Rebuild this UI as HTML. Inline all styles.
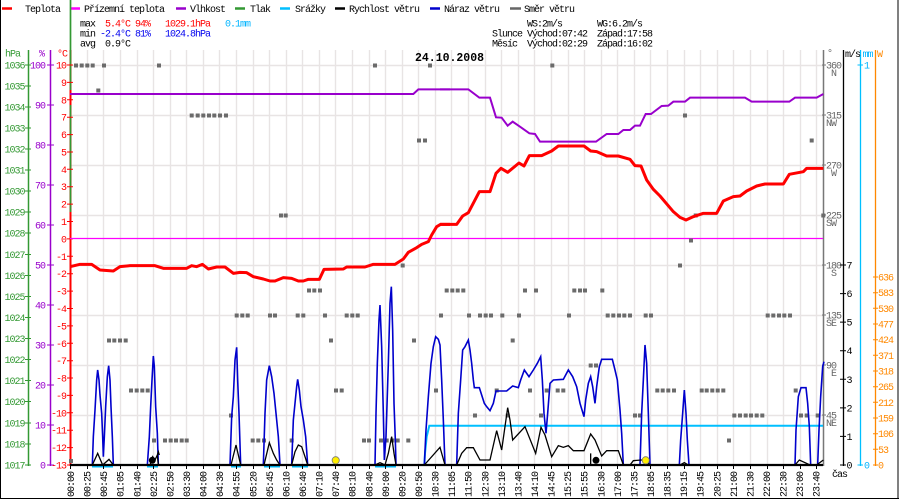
<!DOCTYPE html>
<html><head><meta charset="utf-8"><style>
html,body{margin:0;padding:0;background:#fff;}
svg{display:block;}
text{font-family:"Liberation Mono","DejaVu Sans Mono",monospace;font-size:10px;letter-spacing:-1px;fill:#000;}
.g{fill:#339933}.p{fill:#9900cc}.r{fill:#ff0000}.gr{fill:#666}.o{fill:#ff8800}.c{fill:#00b4ff}.b{fill:#0000ee}
</style></head><body>
<svg width="900" height="500" viewBox="0 0 900 500" xmlns="http://www.w3.org/2000/svg">
<rect width="900" height="500" fill="#fff"/>
<!-- frame -->
<path d="M0.5 0V499 M898 0V499 M0 498.5H899" stroke="#000" stroke-width="1" fill="none"/>

<!-- legend -->
<g stroke-width="2.5">
<line x1="2" x2="12" y1="8.5" y2="8.5" stroke="#ff0000"/>
<line x1="70" x2="80" y1="8.5" y2="8.5" stroke="#ff00ff"/>
<line x1="176" x2="186" y1="8.5" y2="8.5" stroke="#9900cc"/>
<line x1="235" x2="245" y1="8.5" y2="8.5" stroke="#339933"/>
<line x1="280" x2="290" y1="8.5" y2="8.5" stroke="#00bfff"/>
<line x1="335" x2="345" y1="8.5" y2="8.5" stroke="#000"/>
<line x1="430" x2="440" y1="8.5" y2="8.5" stroke="#0000cc"/>
<line x1="510" x2="521" y1="8.5" y2="8.5" stroke="#666"/>
</g>
<text x="25" y="12">Teplota</text>
<text x="84" y="12">Přízemní teplota</text>
<text x="190" y="12">Vlhkost</text>
<text x="250" y="12">Tlak</text>
<text x="295" y="12">Srážky</text>
<text x="349" y="12">Rychlost větru</text>
<text x="444" y="12">Náraz větru</text>
<text x="524" y="12">Směr větru</text>

<!-- stats -->
<text x="80" y="26.5">max</text>
<text x="105" y="26.5" class="r">5.4°C</text>
<text x="135" y="26.5" class="r">94%</text>
<text x="165" y="26.5" class="r">1029.1hPa</text>
<text x="225" y="26.5" class="c">0.1mm</text>
<text x="80" y="36.5">min</text>
<text x="100" y="36.5" class="b">-2.4°C</text>
<text x="135" y="36.5" class="b">81%</text>
<text x="165" y="36.5" class="b">1024.8hPa</text>
<text x="80" y="46.5">avg</text>
<text x="105" y="46.5">0.9°C</text>

<text x="527" y="26.5">WS:2m/s</text>
<text x="597" y="26.5">WG:6.2m/s</text>
<text x="492" y="36.5">Slunce</text>
<text x="527" y="36.5">Východ:07:42</text>
<text x="597" y="36.5">Západ:17:58</text>
<text x="492" y="46.5">Měsíc</text>
<text x="527" y="46.5">Východ:02:29</text>
<text x="597" y="46.5">Západ:16:02</text>

<!-- grid -->
<path stroke="#e8e4e4" stroke-width="1.4" fill="none" d="M70.5 50V465M87.5 50V465M103.5 50V465M120.5 50V465M137.5 50V465M153.5 50V465M170.5 50V465M186.5 50V465M203.5 50V465M219.5 50V465M236.5 50V465M253.5 50V465M269.5 50V465M286.5 50V465M302.5 50V465M319.5 50V465M335.5 50V465M352.5 50V465M369.5 50V465M385.5 50V465M402.5 50V465M418.5 50V465M435.5 50V465M451.5 50V465M468.5 50V465M485.5 50V465M501.5 50V465M518.5 50V465M534.5 50V465M551.5 50V465M568.5 50V465M584.5 50V465M601.5 50V465M617.5 50V465M634.5 50V465M650.5 50V465M667.5 50V465M684.5 50V465M700.5 50V465M717.5 50V465M733.5 50V465M750.5 50V465M767.5 50V465M783.5 50V465M800.5 50V465M816.5 50V465
M70 65.5H823M70 115.5H823M70 165.5H823M70 215.5H823M70 265.5H823M70 315.5H823M70 365.5H823M70 415.5H823"/>

<!-- title -->
<text x="415" y="61" style="font-size:11.5px;font-weight:bold;letter-spacing:0">24.10.2008</text>

<!-- left axes -->
<text x="5" y="56.5" class="g">hPa</text>
<text x="39" y="56.5" class="p">%</text>
<text x="57" y="56.5" class="r">°C</text>
<line x1="28.5" x2="28.5" y1="50" y2="466" stroke="#339933" stroke-width="1.5"/>
<line x1="50.5" x2="50.5" y1="50" y2="466" stroke="#9900cc" stroke-width="1.5"/>
<line x1="70.5" x2="70.5" y1="50" y2="466" stroke="#ff0000" stroke-width="2"/>
<path d="M70.5 0V90M70.5 105V212" stroke="#339933" stroke-width="1.7"/>

<path stroke="#339933" stroke-width="1" d="M25 65H31M25 86H31M25 107H31M25 128H31M25 149H31M25 170H31M25 191H31M25 212H31M25 233H31M25 254.5H31M25 275.5H31M25 296.5H31M25 317.5H31M25 338.5H31M25 359.5H31M25 380.5H31M25 401.5H31M25 423H31M25 444H31M25 465H31"/>
<g class="g" text-anchor="end">
<text x="24.5" y="68.5" class="g">1036</text><text x="24.5" y="89.5" class="g">1035</text><text x="24.5" y="110.5" class="g">1034</text><text x="24.5" y="131.5" class="g">1033</text><text x="24.5" y="152.5" class="g">1032</text><text x="24.5" y="173.5" class="g">1031</text><text x="24.5" y="194.5" class="g">1030</text><text x="24.5" y="215.5" class="g">1029</text><text x="24.5" y="236.5" class="g">1028</text><text x="24.5" y="258" class="g">1027</text><text x="24.5" y="279" class="g">1026</text><text x="24.5" y="300" class="g">1025</text><text x="24.5" y="321" class="g">1024</text><text x="24.5" y="342" class="g">1023</text><text x="24.5" y="363" class="g">1022</text><text x="24.5" y="384" class="g">1021</text><text x="24.5" y="405" class="g">1020</text><text x="24.5" y="426.5" class="g">1019</text><text x="24.5" y="447.5" class="g">1018</text><text x="24.5" y="468.5" class="g">1017</text>
</g>
<path stroke="#9900cc" stroke-width="1" d="M47 65H54M47 105H54M47 145H54M47 185H54M47 225H54M47 265H54M47 305H54M47 345H54M47 385H54M47 425H54M47 465H54"/>
<g text-anchor="end">
<text x="45" y="68.5" class="p">100</text><text x="45" y="108.5" class="p">90</text><text x="45" y="148.5" class="p">80</text><text x="45" y="188.5" class="p">70</text><text x="45" y="228.5" class="p">60</text><text x="45" y="268.5" class="p">50</text><text x="45" y="308.5" class="p">40</text><text x="45" y="348.5" class="p">30</text><text x="45" y="388.5" class="p">20</text><text x="45" y="428.5" class="p">10</text><text x="45" y="468.5" class="p">0</text>
</g>
<path stroke="#ff0000" stroke-width="1" d="M67 65H73M67 82.4H73M67 99.8H73M67 117.2H73M67 134.6H73M67 152H73M67 169.3H73M67 186.7H73M67 204.1H73M67 221.5H73M67 238.9H73M67 256.3H73M67 273.7H73M67 291.1H73M67 308.5H73M67 325.9H73M67 343.3H73M67 360.7H73M67 378H73M67 395.4H73M67 412.8H73M67 430.2H73M67 447.6H73M67 465H73"/>
<g text-anchor="end">
<text x="66" y="68.5" class="r">10</text><text x="66" y="86" class="r">9</text><text x="66" y="103.3" class="r">8</text><text x="66" y="120.7" class="r">7</text><text x="66" y="138.1" class="r">6</text><text x="66" y="155.5" class="r">5</text><text x="66" y="172.8" class="r">4</text><text x="66" y="190.2" class="r">3</text><text x="66" y="207.6" class="r">2</text><text x="66" y="225" class="r">1</text><text x="66" y="242.4" class="r">0</text><text x="66" y="259.8" class="r">-1</text><text x="66" y="277.2" class="r">-2</text><text x="66" y="294.6" class="r">-3</text><text x="66" y="312" class="r">-4</text><text x="66" y="329.4" class="r">-5</text><text x="66" y="346.8" class="r">-6</text><text x="66" y="364.2" class="r">-7</text><text x="66" y="381.5" class="r">-8</text><text x="66" y="398.9" class="r">-9</text><text x="66" y="416.3" class="r">-10</text><text x="66" y="433.7" class="r">-11</text><text x="66" y="451.1" class="r">-12</text><text x="66" y="468.5" class="r">-13</text>
</g>

<!-- right axes -->
<line x1="823.5" x2="823.5" y1="50" y2="466" stroke="#777" stroke-width="1.5"/>
<line x1="843.5" x2="843.5" y1="50" y2="466" stroke="#000" stroke-width="1.3"/>
<line x1="860.5" x2="860.5" y1="50" y2="466" stroke="#00bfff" stroke-width="1.3"/>
<line x1="875.5" x2="875.5" y1="50" y2="466" stroke="#ff8800" stroke-width="1.3"/>
<text x="827" y="56" class="gr">°</text>
<text x="845" y="57">m/s</text>
<text x="862.5" y="57" class="c">mm</text>
<text x="877" y="57" class="o">W</text>

<path stroke="#777" stroke-width="1" d="M822 65H826M822 115H826M822 165H826M822 215H826M822 265H826M822 315H826M822 365H826M822 415H826"/>
<text x="826" y="68.5" class="gr">360</text><text x="831" y="76" class="gr">N</text>
<text x="826" y="118.5" class="gr">315</text><text x="826" y="126" class="gr">NW</text>
<text x="826" y="168.5" class="gr">270</text><text x="831" y="176" class="gr">W</text>
<text x="826" y="218.5" class="gr">225</text><text x="826" y="226" class="gr">SW</text>
<text x="826" y="268.5" class="gr">180</text><text x="831" y="276" class="gr">S</text>
<text x="826" y="318.5" class="gr">135</text><text x="826" y="326" class="gr">SE</text>
<text x="826" y="368.5" class="gr">90</text><text x="831" y="376" class="gr">E</text>
<text x="826" y="418.5" class="gr">45</text><text x="826" y="426" class="gr">NE</text>

<path stroke="#000" stroke-width="1" d="M840 265H846M840 293.6H846M840 322.1H846M840 350.7H846M840 379.3H846M840 407.9H846M840 436.4H846M840 465H846"/>
<text x="846.5" y="268.5">7</text><text x="846.5" y="297">6</text><text x="846.5" y="325.6">5</text><text x="846.5" y="354.2">4</text><text x="846.5" y="382.8">3</text><text x="846.5" y="411.4">2</text><text x="846.5" y="439.9">1</text><text x="846.5" y="468.5">0</text>

<path stroke="#00bfff" stroke-width="1" d="M857.5 65H863M857.5 465H863"/>
<text x="864" y="68.5" class="c">1</text><text x="864" y="468.5" class="c">0</text>

<path stroke="#ff8800" stroke-width="1" d="M873 277H878M873 292.7H878M873 308.3H878M873 324H878M873 339.7H878M873 355.3H878M873 371H878M873 386.7H878M873 402.3H878M873 418H878M873 433.7H878M873 449.3H878M873 465H878"/>
<text x="878" y="280.5" class="o">636</text><text x="878" y="296.2" class="o">583</text><text x="878" y="311.8" class="o">530</text><text x="878" y="327.5" class="o">477</text><text x="878" y="343.2" class="o">424</text><text x="878" y="358.8" class="o">371</text><text x="878" y="374.5" class="o">318</text><text x="878" y="390.2" class="o">265</text><text x="878" y="405.8" class="o">212</text><text x="878" y="421.5" class="o">159</text><text x="878" y="437.2" class="o">106</text><text x="878" y="452.8" class="o">53</text><text x="878" y="468.5" class="o">0</text>

<!-- magenta apparent temp -->
<line x1="70" x2="823" y1="238.5" y2="238.5" stroke="#ff00ff" stroke-width="1.2"/>

<!-- wind direction squares -->
<path fill="#6b6b6b" d="
M74 63.5h4v4h-4zM79.7 63.5h4v4h-4zM85.3 63.5h4v4h-4zM90.7 63.5h4v4h-4zM102 63.5h4v4h-4zM157 63.5h4v4h-4zM373 63.5h4v4h-4zM428 63.5h4v4h-4zM550.3 63.5h4v4h-4z
M96.3 88.5h4v4h-4z
M189.7 113.5h4v4h-4zM195.7 113.5h4v4h-4zM201.3 113.5h4v4h-4zM207 113.5h4v4h-4zM212.3 113.5h4v4h-4zM218 113.5h4v4h-4zM224 113.5h4v4h-4zM683 113.5h4v4h-4z
M417 138.5h4v4h-4zM423 138.5h4v4h-4zM809.7 138.5h4v4h-4z
M279 213.5h4v4h-4zM283.7 213.5h4v4h-4zM693.7 213.5h4v4h-4zM821.3 213.5h4v4h-4z
M689 238.5h4v4h-4z
M400.7 263.5h4v4h-4zM678 263.5h4v4h-4z
M307 288.5h4v4h-4zM312.3 288.5h4v4h-4zM318 288.5h4v4h-4zM444.7 288.5h4v4h-4zM450.3 288.5h4v4h-4zM455.7 288.5h4v4h-4zM461.3 288.5h4v4h-4zM523 288.5h4v4h-4zM534 288.5h4v4h-4zM572.3 288.5h4v4h-4zM578 288.5h4v4h-4zM583 288.5h4v4h-4zM600.3 288.5h4v4h-4z
M234.7 313.5h4v4h-4zM240.3 313.5h4v4h-4zM245.7 313.5h4v4h-4zM268 313.5h4v4h-4zM273 313.5h4v4h-4zM295.7 313.5h4v4h-4zM301.3 313.5h4v4h-4zM323 313.5h4v4h-4zM344.7 313.5h4v4h-4zM350.3 313.5h4v4h-4zM355.7 313.5h4v4h-4zM439 313.5h4v4h-4zM467 313.5h4v4h-4zM478 313.5h4v4h-4zM483.7 313.5h4v4h-4zM489 313.5h4v4h-4zM500.3 313.5h4v4h-4zM517 313.5h4v4h-4zM567 313.5h4v4h-4zM605.7 313.5h4v4h-4zM611.3 313.5h4v4h-4zM617 313.5h4v4h-4zM622.3 313.5h4v4h-4zM628 313.5h4v4h-4zM643.7 313.5h4v4h-4zM649 313.5h4v4h-4zM765.7 313.5h4v4h-4zM771.3 313.5h4v4h-4zM777 313.5h4v4h-4zM782.3 313.5h4v4h-4zM788 313.5h4v4h-4z
M107 338.5h4v4h-4zM112.3 338.5h4v4h-4zM118 338.5h4v4h-4zM123.7 338.5h4v4h-4zM329 338.5h4v4h-4zM412 338.5h4v4h-4zM510.7 338.5h4v4h-4z
M588.7 363.5h4v4h-4zM594 363.5h4v4h-4z
M129 388.5h4v4h-4zM134.7 388.5h4v4h-4zM140.3 388.5h4v4h-4zM145.7 388.5h4v4h-4zM334 388.5h4v4h-4zM339.7 388.5h4v4h-4zM434 388.5h4v4h-4zM494.7 388.5h4v4h-4zM528 388.5h4v4h-4zM544.7 388.5h4v4h-4zM555.7 388.5h4v4h-4zM561.3 388.5h4v4h-4zM655.3 388.5h4v4h-4zM660.7 388.5h4v4h-4zM666.3 388.5h4v4h-4zM672 388.5h4v4h-4zM699.7 388.5h4v4h-4zM704.7 388.5h4v4h-4zM710.3 388.5h4v4h-4zM715.7 388.5h4v4h-4zM721.3 388.5h4v4h-4zM793.7 388.5h4v4h-4z
M229 413.5h4v4h-4zM473 413.5h4v4h-4zM505.7 413.5h4v4h-4zM539 413.5h4v4h-4zM633 413.5h4v4h-4zM638 413.5h4v4h-4zM732.3 413.5h4v4h-4zM738 413.5h4v4h-4zM743.7 413.5h4v4h-4zM749 413.5h4v4h-4zM754.7 413.5h4v4h-4zM760.3 413.5h4v4h-4zM799 413.5h4v4h-4zM804.7 413.5h4v4h-4zM815.7 413.5h4v4h-4z
M152 438.5h4v4h-4zM163 438.5h4v4h-4zM168.7 438.5h4v4h-4zM174 438.5h4v4h-4zM179.7 438.5h4v4h-4zM184.7 438.5h4v4h-4zM250.7 438.5h4v4h-4zM256.3 438.5h4v4h-4zM262 438.5h4v4h-4zM289.7 438.5h4v4h-4zM362 438.5h4v4h-4zM367 438.5h4v4h-4zM379 438.5h4v4h-4zM384.7 438.5h4v4h-4zM390.3 438.5h4v4h-4zM395.7 438.5h4v4h-4zM406.3 438.5h4v4h-4zM727 438.5h4v4h-4z
M69 459h4v4h-4z"/>

<!-- humidity + temperature -->
<g transform="translate(70,55) scale(0.333333)">
<polyline fill="none" stroke="#9900cc" stroke-width="2" vector-effect="non-scaling-stroke" points="0,117 1030,117 1045,103 1140,103"/>
<polyline fill="none" stroke="#ff0000" stroke-width="3" vector-effect="non-scaling-stroke" stroke-linejoin="round" points="0,635 30,628 65,628 90,645 130,648 150,635 180,632 255,632 280,640 350,640 365,632 380,635 397,628 415,642 440,636 465,636 490,655 510,652 530,653 550,665 580,672 600,678 615,678 640,668 665,670 685,678 700,678 715,673 748,673 762,643 820,642 830,636 885,636 910,628 975,628 1000,612 1015,592 1040,578 1055,568 1075,560 1085,540 1100,515 1112,508 1140,508"/>
</g>
<g transform="translate(440,55) scale(0.333333)">
<polyline fill="none" stroke="#9900cc" stroke-width="2" vector-effect="non-scaling-stroke" points="0,103 85,103 118,128 150,128 168,187 185,188 203,212 218,200 240,215 268,235 285,237 300,260 468,260 500,237 535,237 550,225 570,225 585,212 600,212 617,177 633,177 665,153 685,152 700,140 735,140 750,128 915,128 935,140 1048,140 1065,128 1130,128 1150,117"/>
<polyline fill="none" stroke="#ff0000" stroke-width="3" vector-effect="non-scaling-stroke" stroke-linejoin="round" points="0,508 50,508 68,483 85,473 118,410 150,410 168,355 183,340 203,352 237,324 252,333 268,302 305,302 335,288 355,273 432,273 452,288 470,290 500,303 535,303 570,313 585,332 603,333 620,375 640,403 660,423 700,470 720,487 738,495 760,485 790,475 830,475 850,438 880,425 900,423 920,408 950,393 975,387 1030,387 1048,358 1090,350 1100,340 1150,340"/>
</g>

<!-- precipitation -->
<path stroke="#00bfff" stroke-width="2" fill="none" d="M92 466.5H113M147 466.5H158M231 466.5H241M264 466.5H280M292 466.5H308M375 466.5H396M424.3 466L425 453.3L426.7 436.7L428.3 430L429.3 425.7H823"/>

<!-- gust + speed -->
<g transform="translate(70,280) scale(0.333333)">
<polyline fill="none" stroke="#0000cc" stroke-width="1.6" vector-effect="non-scaling-stroke" points="0,555 67,555 70,470 75,390 80,300 83,270 87,300 90,345 95,400 98,470 100,530 103,470 107,380 112,290 116,257 120,300 123,380 127,470 130,555 232,555 238,470 242,380 246,300 250,228 253,260 257,380 262,460 265,555 480,555 485,410 490,350 495,240 500,202 503,300 507,400 512,555 580,555 585,400 590,300 598,257 605,290 612,340 618,400 625,470 630,555 665,555 670,420 675,370 680,320 683,298 688,330 693,380 700,420 707,470 713,555 915,555 918,400 922,250 927,120 930,75 935,200 940,400 943,540 948,470 955,250 960,70 964,20 968,150 972,370 976,480 978,555 1063,555 1068,450 1075,350 1083,250 1090,200 1097,170 1105,178 1110,195 1115,300 1120,420 1125,555 1140,555"/>
<path fill="none" stroke="#000" stroke-width="1.3" vector-effect="non-scaling-stroke" d="M67,555 L83,520 98,555 117,538 130,555 M240,555 L248,530 255,540 262,525 265,555 M262,525 L265,515 268,525 M483,555 L498,495 512,555 M582,555 L598,488 610,520 620,540 630,555 M665,555 L675,515 685,495 695,500 705,530 713,555 M915,555 L930,548 945,555 955,520 965,470 972,520 978,555 M1063,555 L1110,502 1125,555 1140,555"/>
</g>
<g transform="translate(440,280) scale(0.333333)">
<polyline fill="none" stroke="#0000cc" stroke-width="1.6" vector-effect="non-scaling-stroke" points="15,555 50,555 55,400 62,300 68,210 75,200 85,180 90,210 95,250 100,300 103,323 118,323 125,345 133,370 140,380 150,392 160,370 168,333 200,333 218,318 235,323 242,300 253,270 267,290 280,270 292,250 302,230 307,300 312,400 318,460 323,400 330,310 340,300 370,298 385,270 398,290 410,320 420,370 432,410 437,360 445,310 452,290 458,320 465,370 470,320 478,260 485,238 517,238 525,270 532,300 540,390 545,460 550,555 600,555 605,400 610,300 615,195 620,250 625,400 630,555 718,555 722,480 728,400 733,330 738,400 742,480 747,555 1065,555 1068,450 1075,350 1083,323 1098,323 1103,370 1108,440 1112,555 1133,555 1137,450 1142,350 1148,260 1152,245"/>
<path fill="none" stroke="#000" stroke-width="1.3" vector-effect="non-scaling-stroke" d="M15,555 L50,555 65,520 80,503 100,503 120,540 150,540 170,452 185,510 203,383 210,420 218,480 255,440 287,520 303,442 315,465 335,530 355,497 370,502 385,497 400,512 432,512 452,462 465,480 485,528 500,512 535,512 550,555 570,555 580,542 605,540 615,540 630,555 720,555 733,548 745,555 1065,555 1078,540 1110,555 1130,555 1150,540 M452,520 L452,555"/>
</g>
<!-- wind baseline -->
<line x1="70" x2="823" y1="465" y2="465" stroke="#000" stroke-width="2.2"/>

<!-- markers -->
<circle cx="152.3" cy="460.3" r="3.5" fill="#000"/>
<circle cx="596" cy="460.3" r="3.5" fill="#000"/>
<circle cx="335.7" cy="460.3" r="3.6" fill="#ffee00" stroke="#777" stroke-width="0.8"/>
<circle cx="645.7" cy="460.3" r="3.6" fill="#ffee00" stroke="#777" stroke-width="0.8"/>

<!-- x ticks -->
<path stroke="#000" stroke-width="1" d="M70.5 465V469M87.5 465V469M103.5 465V469M120.5 465V469M137.5 465V469M153.5 465V469M170.5 465V469M186.5 465V469M203.5 465V469M219.5 465V469M236.5 465V469M253.5 465V469M269.5 465V469M286.5 465V469M302.5 465V469M319.5 465V469M335.5 465V469M352.5 465V469M369.5 465V469M385.5 465V469M402.5 465V469M418.5 465V469M435.5 465V469M451.5 465V469M468.5 465V469M485.5 465V469M501.5 465V469M518.5 465V469M534.5 465V469M551.5 465V469M568.5 465V469M584.5 465V469M601.5 465V469M617.5 465V469M634.5 465V469M650.5 465V469M667.5 465V469M684.5 465V469M700.5 465V469M717.5 465V469M733.5 465V469M750.5 465V469M767.5 465V469M783.5 465V469M800.5 465V469M816.5 465V469"/>

<!-- x labels -->
<text transform="translate(74,497) rotate(-90)">00:00</text>
<text transform="translate(90.5,497) rotate(-90)">00:25</text>
<text transform="translate(107,497) rotate(-90)">00:45</text>
<text transform="translate(123.5,497) rotate(-90)">01:05</text>
<text transform="translate(140.5,497) rotate(-90)">01:40</text>
<text transform="translate(157,497) rotate(-90)">02:25</text>
<text transform="translate(173.5,497) rotate(-90)">02:50</text>
<text transform="translate(190,497) rotate(-90)">03:30</text>
<text transform="translate(206.5,497) rotate(-90)">04:00</text>
<text transform="translate(223,497) rotate(-90)">04:30</text>
<text transform="translate(239.5,497) rotate(-90)">04:55</text>
<text transform="translate(256.5,497) rotate(-90)">05:20</text>
<text transform="translate(273,497) rotate(-90)">05:45</text>
<text transform="translate(289.5,497) rotate(-90)">06:10</text>
<text transform="translate(306,497) rotate(-90)">06:40</text>
<text transform="translate(322.5,497) rotate(-90)">07:10</text>
<text transform="translate(339,497) rotate(-90)">07:40</text>
<text transform="translate(355.5,497) rotate(-90)">08:10</text>
<text transform="translate(372.5,497) rotate(-90)">08:40</text>
<text transform="translate(389,497) rotate(-90)">09:00</text>
<text transform="translate(405.5,497) rotate(-90)">09:20</text>
<text transform="translate(422,497) rotate(-90)">09:50</text>
<text transform="translate(438.5,497) rotate(-90)">10:30</text>
<text transform="translate(455,497) rotate(-90)">11:05</text>
<text transform="translate(471.5,497) rotate(-90)">11:50</text>
<text transform="translate(488.5,497) rotate(-90)">12:30</text>
<text transform="translate(505,497) rotate(-90)">13:10</text>
<text transform="translate(521.5,497) rotate(-90)">13:40</text>
<text transform="translate(538,497) rotate(-90)">14:10</text>
<text transform="translate(554.5,497) rotate(-90)">14:45</text>
<text transform="translate(571,497) rotate(-90)">15:25</text>
<text transform="translate(587.5,497) rotate(-90)">15:55</text>
<text transform="translate(604.5,497) rotate(-90)">16:30</text>
<text transform="translate(621,497) rotate(-90)">17:00</text>
<text transform="translate(637.5,497) rotate(-90)">17:35</text>
<text transform="translate(654,497) rotate(-90)">18:05</text>
<text transform="translate(670.5,497) rotate(-90)">18:35</text>
<text transform="translate(687,497) rotate(-90)">19:15</text>
<text transform="translate(703.5,497) rotate(-90)">19:45</text>
<text transform="translate(720.5,497) rotate(-90)">20:25</text>
<text transform="translate(737,497) rotate(-90)">21:00</text>
<text transform="translate(753.5,497) rotate(-90)">21:30</text>
<text transform="translate(770,497) rotate(-90)">22:00</text>
<text transform="translate(786.5,497) rotate(-90)">22:30</text>
<text transform="translate(803,497) rotate(-90)">23:00</text>
<text transform="translate(819.5,497) rotate(-90)">23:40</text>
<text x="832" y="477">čas</text>
</svg>
</body></html>
